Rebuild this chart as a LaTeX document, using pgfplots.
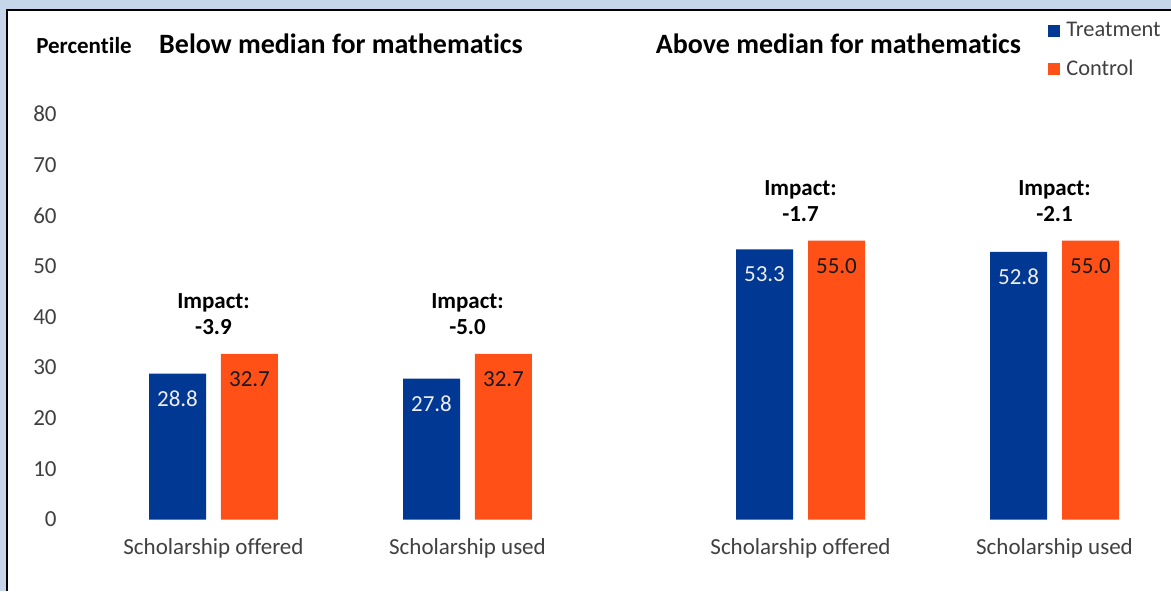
\documentclass[border=0pt]{standalone}
\usepackage{fontspec}
\setmainfont{Carlito}[Ligatures=NoCommon]
\usepackage{pgfplots}
\usepackage{pgfplotstable}
\pgfplotsset{compat=1.18}

\definecolor{treat}{HTML}{003893}
\definecolor{ctrl}{HTML}{FF5117}
\definecolor{framebg}{HTML}{C5D5EA}
\definecolor{txt}{HTML}{404040}

% group centres: 0,1 (below median), 2.311,3.311 (above median)
\pgfplotstableread{
x      treat  ctrl
0      28.8   32.7
1      27.8   32.7
2.311  53.3   55.0
3.311  52.8   55.0
}\scores

\pgfplotstableread{
x      top    impact
0      32.7   -3.9
1      32.7   -5.0
2.311  55.0   -1.7
3.311  55.0   -2.1
}\impacts

\begin{document}
\begin{tikzpicture}
% frame (pixel units)
\begin{scope}[x=0.5pt,y=-0.5pt]
  \fill[framebg] (0,0) rectangle (1171,591);
  \fill[white] (7,10) rectangle (1171,591);
  \draw[black,line width=1pt] (7,591) -- (7,10) -- (1171,10);
\end{scope}

\begin{axis}[
  at={(30pt,-259.75pt)}, anchor=south west,
  scale only axis, width=545pt, height=202.75pt,
  xmin=-0.6043, xmax=3.687, ymin=0, ymax=80,
  clip=false,
  axis line style={draw=none}, tick style={draw=none},
  /pgf/number format/assume math mode=true,
  ytick={0,10,...,80},
  xtick={0,1,2.311,3.311},
  xticklabels={Scholarship offered,Scholarship used,Scholarship offered,Scholarship used},
  ticklabel style={font=\fontsize{11.5}{13}\selectfont, text=txt},
  yticklabel style={anchor=east, inner sep=0pt, xshift=-1.5pt},
  xticklabel style={anchor=base, yshift=-17.25pt},
  legend style={at={(0.9064,1.2269)}, anchor=north west, draw=none, fill=none,
    font=\fontsize{11.2}{13}\selectfont, text=txt, row sep=10pt,
    inner sep=0pt, nodes={inner sep=0pt}},
  legend cell align=left,
  every node near coord/.append style={/pgf/number format/fixed,
    /pgf/number format/zerofill, /pgf/number format/precision=1},
]
\addplot[ybar, bar width=0.2244, bar shift=0, fill=treat, draw=none,
  nodes near coords,
  nodes near coords style={anchor=center, yshift=-12.5pt, text=white!93!black,
    font=\fontsize{11.5}{13}\selectfont},
  legend image code/.code={\fill[treat] (0pt,-3pt) rectangle (6pt,3pt);}]
  table[x expr=\thisrow{x}-0.1417, y=treat]{\scores};
\addlegendentry{\hspace{3pt}Treatment}
\addplot[ybar, bar width=0.2244, bar shift=0, fill=ctrl, draw=none,
  nodes near coords,
  nodes near coords style={anchor=center, yshift=-12.5pt, text=black!90,
    font=\fontsize{11.5}{13}\selectfont},
  legend image code/.code={\fill[ctrl] (0pt,-3pt) rectangle (6pt,3pt);}]
  table[x expr=\thisrow{x}+0.1417, y=ctrl]{\scores};
\addlegendentry{\hspace{3pt}Control}
\addplot[draw=none, mark=none, forget plot,
  point meta=explicit symbolic,
  nodes near coords={Impact:\\\pgfplotspointmeta},
  nodes near coords style={anchor=south, align=center, inner sep=0pt, yshift=9.3pt,
    font=\fontsize{11.5}{13}\selectfont\bfseries, text=black}]
  table[x=x, y=top, meta=impact]{\impacts};
\end{axis}

\begin{scope}[x=0.5pt,y=-0.5pt]
  \node[anchor=base, font=\fontsize{11.5}{13}\selectfont\bfseries] at (84,53) {Percentile};
  \node[anchor=base, font=\fontsize{14}{16}\selectfont\bfseries] at (341,53) {Below median for mathematics};
  \node[anchor=base, font=\fontsize{14}{16}\selectfont\bfseries] at (838.5,53) {Above median for mathematics};
\end{scope}
\pgfresetboundingbox
\useasboundingbox (0,0) rectangle (585.5pt,-295.5pt);
\end{tikzpicture}
\end{document}
